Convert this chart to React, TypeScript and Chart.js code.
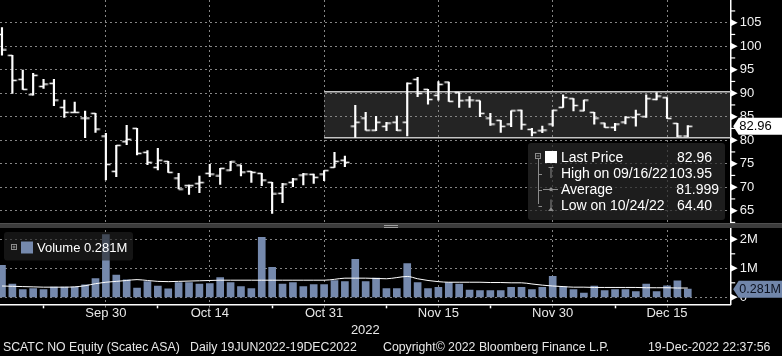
import React, { useEffect, useRef } from 'react';
import { Chart, registerables } from 'chart.js';

Chart.register(...registerables);

// ---------------- data ----------------
const DATES = [
  '2022-09-16',
  '2022-09-19', '2022-09-20', '2022-09-21', '2022-09-22', '2022-09-23',
  '2022-09-26', '2022-09-27', '2022-09-28', '2022-09-29', '2022-09-30',
  '2022-10-03', '2022-10-04', '2022-10-05', '2022-10-06', '2022-10-07',
  '2022-10-10', '2022-10-11', '2022-10-12', '2022-10-13', '2022-10-14',
  '2022-10-17', '2022-10-18', '2022-10-19', '2022-10-20', '2022-10-21',
  '2022-10-24', '2022-10-25', '2022-10-26', '2022-10-27', '2022-10-28',
  '2022-10-31', '2022-11-01', '2022-11-02', '2022-11-03', '2022-11-04',
  '2022-11-07', '2022-11-08', '2022-11-09', '2022-11-10', '2022-11-11',
  '2022-11-14', '2022-11-15', '2022-11-16', '2022-11-17', '2022-11-18',
  '2022-11-21', '2022-11-22', '2022-11-23', '2022-11-24', '2022-11-25',
  '2022-11-28', '2022-11-29', '2022-11-30', '2022-12-01', '2022-12-02',
  '2022-12-05', '2022-12-06', '2022-12-07', '2022-12-08', '2022-12-09',
  '2022-12-12', '2022-12-13', '2022-12-14', '2022-12-15', '2022-12-16',
  '2022-12-19',
];

const OPEN = [
  102.5, 98.05, 92.94, 89.68, 91.45, 92.1, 86.99, 85.92, 84.72, 85.71,
  80.89, 73.37, 79.68, 82.52, 77.41, 74.22, 75.5, 71.95, 70.32, 70.74,
  72.94, 72.38, 73.65, 74.72, 73.37, 72.94, 71.03, 68.69, 71.03, 72.59,
  72.73, 72.8, 74.22, 75.74, 83.0, 84.72, 82.13, 82.94, 83.83, 83.83,
  92.94, 90.82, 89.54, 92.38, 90.11, 88.55, 88.4, 84.72, 84.22, 83.44,
  86.38, 82.3, 82.0, 83.44, 86.99, 88.83, 86.24, 85.92, 83.65, 82.73,
  83.86, 84.86, 85.0, 88.69, 89.04, 83.58, 80.89,
];
const HIGH = [
  103.95, 98.05, 94.93, 94.22, 92.94, 92.94, 88.55, 88.12, 86.2, 85.71,
  81.45, 78.9, 83.16, 82.52, 77.77, 78.26, 75.5, 72.94, 70.46, 72.38,
  74.86, 74.01, 75.5, 74.72, 73.37, 72.94, 71.03, 70.82, 71.88, 72.94,
  72.8, 73.51, 77.41, 76.63, 87.41, 85.92, 85.07, 83.8, 85.11, 92.23,
  93.37, 90.82, 92.48, 92.38, 90.11, 89.26, 88.4, 85.71, 84.22, 86.24,
  86.38, 82.5, 83.0, 86.38, 89.65, 88.83, 88.55, 85.92, 83.65, 83.58,
  85.0, 86.38, 89.65, 90.11, 89.04, 83.58, 83.1,
];
const LOW = [
  98.1, 89.96, 90.82, 89.6, 91.03, 87.34, 84.86, 85.92, 80.53, 81.67,
  71.52, 72.23, 79.04, 76.84, 74.79, 73.65, 73.16, 69.61, 68.48, 68.83,
  72.23, 70.6, 73.5, 72.38, 71.03, 70.32, 64.4, 66.7, 70.11, 70.46,
  70.82, 71.38, 74.22, 74.36, 80.57, 82.13, 82.0, 82.0, 82.0, 80.89,
  89.26, 87.66, 88.51, 88.26, 86.99, 86.99, 85.0, 83.12, 81.67, 82.87,
  82.3, 80.89, 81.6, 83.0, 86.99, 86.24, 86.24, 83.4, 82.73, 82.0,
  83.44, 83.0, 84.86, 88.55, 84.65, 80.75, 80.75,
];
const CLOSE = [
  99.2, 92.73, 90.82, 93.8, 91.95, 88.55, 85.92, 85.92, 84.72, 82.38,
  74.86, 78.9, 80.18, 77.2, 75.28, 75.74, 73.16, 69.61, 70.32, 70.96,
  72.8, 74.01, 75.36, 73.23, 73.16, 71.52, 68.55, 70.67, 71.74, 72.8,
  72.1, 73.51, 75.5, 75.28, 83.83, 82.13, 83.83, 83.65, 82.13, 92.09,
  89.96, 88.65, 91.88, 88.26, 88.4, 88.55, 85.71, 83.44, 82.94, 86.24,
  83.3, 81.6, 82.16, 86.38, 89.08, 87.38, 88.55, 84.72, 82.73, 83.44,
  84.86, 85.5, 88.83, 89.4, 84.65, 80.89, 82.96,
];

// volume in millions of shares
const VOLUME_M = [
  1.10, 0.46, 0.27, 0.30, 0.27, 0.35, 0.35, 0.35, 0.43, 0.65,
  2.16, 0.77, 0.60, 0.32, 0.54, 0.39, 0.29, 0.51, 0.51, 0.46,
  0.47, 0.68, 0.51, 0.37, 0.30, 2.07, 1.03, 0.46, 0.51, 0.37,
  0.44, 0.44, 0.58, 0.54, 1.31, 0.54, 0.66, 0.30, 0.30, 1.16,
  0.51, 0.30, 0.34, 0.51, 0.46, 0.25, 0.23, 0.23, 0.23, 0.34,
  0.34, 0.27, 0.34, 0.72, 0.36, 0.27, 0.15, 0.39, 0.23, 0.27,
  0.27, 0.20, 0.46, 0.20, 0.40, 0.57, 0.281,
];
const VOLUME_AVG_M = [
  0.39, 0.38, 0.37, 0.36, 0.35, 0.35, 0.35, 0.36, 0.40, 0.47,
  0.52, 0.55, 0.58, 0.61, 0.58, 0.55, 0.54, 0.55, 0.56, 0.57,
  0.58, 0.59, 0.59, 0.59, 0.59, 0.59, 0.59, 0.59, 0.59, 0.59,
  0.59, 0.59, 0.62, 0.66, 0.66, 0.66, 0.65, 0.64, 0.68, 0.72,
  0.64, 0.58, 0.54, 0.52, 0.52, 0.52, 0.52, 0.51, 0.51, 0.50,
  0.50, 0.46, 0.42, 0.39, 0.37, 0.35, 0.35, 0.34, 0.34, 0.34,
  0.34, 0.34, 0.33, 0.33, 0.33, 0.32, 0.32,
];

const MAJOR_TICK_DATES = ['2022-09-30', '2022-10-14', '2022-10-31', '2022-11-15', '2022-11-30', '2022-12-15'];
const MAJOR_TICK_LABELS = ['Sep 30', 'Oct 14', 'Oct 31', 'Nov 15', 'Nov 30', 'Dec 15'];
const MINOR_TICK_DATES = ['2022-09-22', '2022-10-07', '2022-10-24', '2022-11-08', '2022-11-22', '2022-12-08'];
const YEAR_LABEL = '2022';

const RANGE_START_DATE = '2022-10-31';
const RANGE_HIGH = 90.3;
const RANGE_LOW = 80.5;

const LAST_PRICE_TEXT = '82.96';
const LAST_VOLUME_TEXT = '0.281M';

const LEGEND_LABELS = ['Last Price', 'High on 09/16/22', 'Average', 'Low on 10/24/22'];
const LEGEND_VALUES = ['82.96', '103.95', '81.999', '64.40'];
const VOLUME_LEGEND_TEXT = 'Volume 0.281M';

const FOOTER_TEXTS = [
  'SCATC NO Equity (Scatec ASA)',
  'Daily 19JUN2022-19DEC2022',
  'Copyright\u00a9 2022 Bloomberg Finance L.P.',
  '19-Dec-2022 22:37:56',
];

// ---------------- layout / style ----------------
const W = 782;
const CANVAS_H = 340;
const AXIS_W = 51.3;
const X_MIN = -0.19;
const X_MAX = 70.13;
const PRICE_MIN = 61.74;
const PRICE_MAX = 109.83;
const VOL_MIN = -0.241;
const VOL_MAX = 2.459;
const PRICE_PANEL_H = 226;
const VOL_PANEL_H = 78.3;
const X_AXIS_H = CANVAS_H - PRICE_PANEL_H - VOL_PANEL_H;
const FONT = '"Liberation Sans", Arial, sans-serif';
const GRID = '#858585';
const VOL_COLOR = '#7589ad';
const TEXT = '#e8e8e8';
const FOOTER_LEFT = [3, 190, 383, 648];

const idx = (d: string) => DATES.indexOf(d);
const MAJOR_IDX = MAJOR_TICK_DATES.map(idx);
const MINOR_IDX = MINOR_TICK_DATES.map(idx);
const ALL_TICKS = [...MAJOR_IDX, ...MINOR_IDX].sort((a, b) => a - b);
const isMajorX = (v: any) => MAJOR_IDX.includes(v);
const xLabel = (v: any) => {
  const k = MAJOR_IDX.indexOf(v);
  return k >= 0 ? MAJOR_TICK_LABELS[k] : '';
};

function tickImage(side: 'left' | 'right') {
  const c = document.createElement('canvas');
  c.width = 12;
  c.height = 3;
  const g = c.getContext('2d')!;
  g.fillStyle = '#ffffff';
  if (side === 'left') g.fillRect(1.5, 0.75, 4.5, 1.5);
  else g.fillRect(6, 0.75, 4.5, 1.5);
  return c;
}

function roundRect(ctx: CanvasRenderingContext2D, x: number, y: number, w: number, h: number, r: number) {
  ctx.beginPath();
  ctx.moveTo(x + r, y);
  ctx.arcTo(x + w, y, x + w, y + h, r);
  ctx.arcTo(x + w, y + h, x, y + h, r);
  ctx.arcTo(x, y + h, x, y, r);
  ctx.arcTo(x, y, x + w, y, r);
  ctx.closePath();
}

function drawAxisMarkers(ctx: CanvasRenderingContext2D, scale: any, isMajor: (v: number) => boolean) {
  const x0 = scale.left;
  ctx.save();
  ctx.fillStyle = '#ffffff';
  ctx.strokeStyle = '#ffffff';
  ctx.lineWidth = 1.2;
  for (const t of scale.ticks) {
    const py = scale.getPixelForValue(t.value);
    if (isMajor(t.value)) {
      ctx.beginPath();
      ctx.moveTo(x0, py - 3.5);
      ctx.lineTo(x0 + 7, py);
      ctx.lineTo(x0, py + 3.5);
      ctx.closePath();
      ctx.fill();
    } else {
      ctx.beginPath();
      ctx.moveTo(x0, py);
      ctx.lineTo(x0 + 4.5, py);
      ctx.stroke();
    }
  }
  ctx.restore();
}

function drawTag(ctx: CanvasRenderingContext2D, x0: number, py: number, text: string, bg: string, fg: string, size: number) {
  const h = 17;
  ctx.save();
  ctx.fillStyle = bg;
  ctx.beginPath();
  ctx.moveTo(x0 + 2.5, py);
  ctx.lineTo(x0 + 8, py - h / 2);
  ctx.lineTo(W, py - h / 2);
  ctx.lineTo(W, py + h / 2);
  ctx.lineTo(x0 + 8, py + h / 2);
  ctx.closePath();
  ctx.fill();
  ctx.fillStyle = fg;
  ctx.font = `${size}px ${FONT}`;
  ctx.textBaseline = 'middle';
  ctx.textAlign = 'left';
  ctx.fillText(text, x0 + 8.6, py + 0.5);
  ctx.restore();
}

const decorPlugin = {
  id: 'bbgDecor',
  beforeDraw(chart: any) {
    const { ctx, chartArea, scales } = chart;
    ctx.save();
    ctx.fillStyle = '#000000';
    ctx.fillRect(0, 0, chart.width, chart.height);
    const left = scales.x.getPixelForValue(idx(RANGE_START_DATE));
    const top = scales.y.getPixelForValue(RANGE_HIGH);
    const bot = scales.y.getPixelForValue(RANGE_LOW);
    ctx.fillStyle = '#242424';
    ctx.fillRect(left, top, chartArea.right - left, bot - top);
    ctx.restore();
  },
  beforeDatasetsDraw(chart: any) {
    const { ctx, chartArea, scales } = chart;
    const left = scales.x.getPixelForValue(idx(RANGE_START_DATE));
    const top = scales.y.getPixelForValue(RANGE_HIGH);
    const bot = scales.y.getPixelForValue(RANGE_LOW);
    ctx.save();
    ctx.strokeStyle = '#c4c4c4';
    ctx.lineWidth = 1.5;
    ctx.beginPath();
    ctx.moveTo(left, top);
    ctx.lineTo(chartArea.right, top);
    ctx.moveTo(left, bot);
    ctx.lineTo(chartArea.right, bot);
    ctx.stroke();
    ctx.restore();
  },
  afterDraw(chart: any) {
    const { ctx, scales } = chart;
    const y = scales.y;
    const yv = scales.yv;

    // axis markers
    drawAxisMarkers(ctx, y, (v) => v % 5 === 0);
    drawAxisMarkers(ctx, yv, (v) => Number.isInteger(v));

    // separator between panels
    const yb = y.bottom;
    ctx.save();
    ctx.fillStyle = '#3c3c3c';
    ctx.fillRect(0, yb - 3, chart.width, 5);
    ctx.fillStyle = '#505050';
    ctx.fillRect(0, yb - 3, chart.width, 1);
    ctx.strokeStyle = '#a0a0a0';
    ctx.lineWidth = 1;
    ctx.beginPath();
    ctx.moveTo(384, yb - 0.5);
    ctx.lineTo(398, yb - 0.5);
    ctx.moveTo(384, yb + 1.5);
    ctx.lineTo(398, yb + 1.5);
    ctx.stroke();
    ctx.restore();

    // value tags on right axes
    drawTag(ctx, y.left, y.getPixelForValue(CLOSE[CLOSE.length - 1]), LAST_PRICE_TEXT, '#ffffff', '#000000', 13);
    drawTag(ctx, yv.left, yv.getPixelForValue(VOLUME_M[VOLUME_M.length - 1]), LAST_VOLUME_TEXT, '#7186aa', '#0c1220', 12.5);

    // price legend
    ctx.save();
    ctx.fillStyle = 'rgba(40,40,40,0.72)';
    roundRect(ctx, 528, 143, 197, 77, 3);
    ctx.fill();
    const rows = [158, 174, 190, 206];
    const grey = '#8c8c8c';
    ctx.strokeStyle = grey;
    ctx.fillStyle = grey;
    ctx.lineWidth = 1;
    ctx.strokeRect(535.5, 153.5, 5, 5);
    ctx.beginPath();
    ctx.moveTo(536.5, 156);
    ctx.lineTo(539.5, 156);
    ctx.stroke();
    ctx.beginPath();
    ctx.moveTo(538.5, 159);
    ctx.lineTo(538.5, 204);
    for (const r of rows.slice(1)) {
      ctx.moveTo(538.5, r + 0.5);
      ctx.lineTo(542, r + 0.5);
    }
    ctx.stroke();
    ctx.beginPath();
    ctx.moveTo(548.5, 167.5);
    ctx.lineTo(553.5, 167.5);
    ctx.moveTo(551, 167.5);
    ctx.lineTo(551, 178);
    ctx.stroke();
    ctx.beginPath();
    ctx.moveTo(543, 189.5);
    ctx.lineTo(558, 189.5);
    ctx.stroke();
    ctx.beginPath();
    ctx.arc(551, 189.5, 1.8, 0, Math.PI * 2);
    ctx.fill();
    ctx.beginPath();
    ctx.moveTo(551, 199.5);
    ctx.lineTo(551, 209);
    ctx.stroke();
    ctx.beginPath();
    ctx.moveTo(548, 211);
    ctx.lineTo(551, 207.5);
    ctx.lineTo(554, 211);
    ctx.closePath();
    ctx.fill();
    ctx.fillStyle = '#ffffff';
    ctx.fillRect(545, 151, 12, 12);
    ctx.font = `14px ${FONT}`;
    ctx.textBaseline = 'middle';
    ctx.fillStyle = '#ffffff';
    LEGEND_LABELS.forEach((t, i) => {
      ctx.textAlign = 'left';
      ctx.fillText(t, 561, rows[i] + 0.5);
    });
    LEGEND_VALUES.forEach((t, i) => {
      ctx.textAlign = 'right';
      const right = t.split('.')[1]?.length === 3 ? 719 : 712;
      ctx.fillText(t, right, rows[i] + 0.5);
    });
    ctx.restore();

    // volume legend
    ctx.save();
    ctx.fillStyle = 'rgba(34,34,34,0.62)';
    roundRect(ctx, 4, 232, 129, 28.5, 3);
    ctx.fill();
    ctx.strokeStyle = grey;
    ctx.lineWidth = 1;
    ctx.strokeRect(11.5, 244.5, 5, 5);
    ctx.beginPath();
    ctx.moveTo(12.5, 247);
    ctx.lineTo(15.5, 247);
    ctx.moveTo(14, 245.5);
    ctx.lineTo(14, 248.5);
    ctx.stroke();
    ctx.fillStyle = VOL_COLOR;
    ctx.fillRect(21, 241.5, 12, 12);
    ctx.fillStyle = '#ffffff';
    ctx.font = `13px ${FONT}`;
    ctx.textBaseline = 'middle';
    ctx.textAlign = 'left';
    ctx.fillText(VOLUME_LEGEND_TEXT, 37, 248);
    ctx.restore();
  },
};

export default function App() {
  const ref = useRef<HTMLCanvasElement | null>(null);

  useEffect(() => {
    if (!ref.current) return;
    const openImg = tickImage('left');
    const closeImg = tickImage('right');

    const chart = new Chart(ref.current, {
      type: 'bar',
      data: {
        datasets: [
          {
            type: 'line',
            label: 'Volume average',
            data: VOLUME_AVG_M.map((v, i) => ({ x: i, y: v })),
            xAxisID: 'x',
            yAxisID: 'yv',
            borderColor: '#ffffff',
            borderWidth: 1,
            pointRadius: 0,
            cubicInterpolationMode: 'monotone',
            order: 0,
          } as any,
          {
            type: 'line',
            label: 'Open',
            data: OPEN.map((v, i) => ({ x: i, y: v })),
            xAxisID: 'x',
            yAxisID: 'y',
            showLine: false,
            pointStyle: openImg,
            pointRadius: 3,
            pointHoverRadius: 3,
            order: 1,
          } as any,
          {
            type: 'line',
            label: 'Close',
            data: CLOSE.map((v, i) => ({ x: i, y: v })),
            xAxisID: 'x',
            yAxisID: 'y',
            showLine: false,
            pointStyle: closeImg,
            pointRadius: 3,
            pointHoverRadius: 3,
            order: 1,
          } as any,
          {
            type: 'bar',
            label: 'High-Low',
            data: LOW.map((l, i) => ({ x: i, y: [l, HIGH[i]] })),
            xAxisID: 'x',
            yAxisID: 'y',
            backgroundColor: '#ffffff',
            borderWidth: 0,
            barThickness: 1.5,
            grouped: false,
            order: 2,
          } as any,
          {
            type: 'bar',
            label: 'Volume',
            data: VOLUME_M.map((v, i) => ({ x: i, y: v })),
            xAxisID: 'x',
            yAxisID: 'yv',
            backgroundColor: VOL_COLOR,
            borderWidth: 0,
            barThickness: 7,
            grouped: false,
            order: 3,
          } as any,
        ],
      },
      options: {
        animation: false,
        responsive: false,
        events: [],
        layout: { padding: 0, autoPadding: false },
        plugins: { legend: { display: false }, tooltip: { enabled: false } },
        scales: {
          x: {
            type: 'linear',
            position: 'bottom',
            min: X_MIN,
            max: X_MAX,
            offset: false,
            afterBuildTicks: (s: any) => {
              s.ticks = ALL_TICKS.map((v) => ({ value: v }));
            },
            afterFit: (s: any) => {
              s.height = X_AXIS_H;
              s.paddingLeft = 0;
              s.paddingRight = 0;
            },
            ticks: {
              autoSkip: false,
              maxRotation: 0,
              minRotation: 0,
              padding: -1,
              color: TEXT,
              font: { family: FONT, size: 13, lineHeight: 1 },
              callback: (v: any) => xLabel(v),
            },
            grid: {
              offset: false,
              color: (c: any) => (c.tick && isMajorX(c.tick.value) ? GRID : 'rgba(0,0,0,0)'),
              lineWidth: 1,
              drawTicks: true,
              tickLength: 4,
              tickColor: (c: any) => (c.tick && isMajorX(c.tick.value) ? GRID : '#ffffff'),
              tickWidth: (c: any) => (c.tick && isMajorX(c.tick.value) ? 1 : 1.5),
              tickBorderDash: (c: any) => (c.tick && isMajorX(c.tick.value) ? [2, 2] : []),
            },
            border: { display: true, color: '#ffffff', width: 1.5, dash: [2, 3] },
            title: {
              display: true,
              text: YEAR_LABEL,
              color: TEXT,
              font: { family: FONT, size: 13, lineHeight: 1 },
              padding: { top: 0, bottom: 3.5 },
            },
          } as any,
          y: {
            type: 'linear',
            position: 'right',
            stack: 'panels',
            stackWeight: PRICE_PANEL_H,
            min: PRICE_MIN,
            max: PRICE_MAX,
            beginAtZero: false,
            afterFit: (s: any) => {
              s.width = AXIS_W;
              s.paddingTop = 0;
              s.paddingBottom = 0;
            },
            ticks: {
              stepSize: 2.5,
              autoSkip: false,
              includeBounds: false,
              padding: 9,
              color: '#f2f2f2',
              font: { family: FONT, size: 13 },
              callback: (v: any) => (v % 5 === 0 ? String(v) : ''),
            },
            grid: {
              drawTicks: false,
              color: (c: any) => (c.tick && c.tick.value % 5 === 0 ? GRID : 'rgba(0,0,0,0)'),
              lineWidth: 1,
            },
            border: { display: true, color: '#ffffff', width: 1.5, dash: [2, 3] },
          } as any,
          yv: {
            type: 'linear',
            position: 'right',
            stack: 'panels',
            stackWeight: VOL_PANEL_H,
            min: VOL_MIN,
            max: VOL_MAX,
            beginAtZero: false,
            afterFit: (s: any) => {
              s.width = AXIS_W;
              s.paddingTop = 0;
              s.paddingBottom = 0;
            },
            ticks: {
              stepSize: 0.5,
              autoSkip: false,
              includeBounds: false,
              padding: 9,
              color: '#f2f2f2',
              font: { family: FONT, size: 13 },
              callback: (v: any) => (Number.isInteger(v) ? (v === 0 ? '0' : `${v}M`) : ''),
            },
            grid: {
              drawTicks: false,
              color: (c: any) => (c.tick && Number.isInteger(c.tick.value) ? GRID : 'rgba(0,0,0,0)'),
              lineWidth: 1,
            },
            border: { display: true, color: '#ffffff', width: 1.5, dash: [2, 3] },
          } as any,
        },
      },
      plugins: [decorPlugin as any],
    });
    return () => chart.destroy();
  }, []);

  return (
    <div
      style={{
        position: 'absolute',
        left: 0,
        top: 0,
        width: W,
        height: 356,
        background: '#000',
        overflow: 'hidden',
      }}
    >
      <canvas ref={ref} width={W} height={CANVAS_H} style={{ display: 'block', width: W, height: CANVAS_H }} />
      {FOOTER_TEXTS.map((t, i) => (
        <span
          key={i}
          style={{
            position: 'absolute',
            left: FOOTER_LEFT[i],
            top: 339,
            height: 16,
            lineHeight: '16px',
            whiteSpace: 'nowrap',
            color: TEXT,
            fontFamily: FONT,
            fontSize: 12.3,
          }}
        >
          {t}
        </span>
      ))}
    </div>
  );
}
